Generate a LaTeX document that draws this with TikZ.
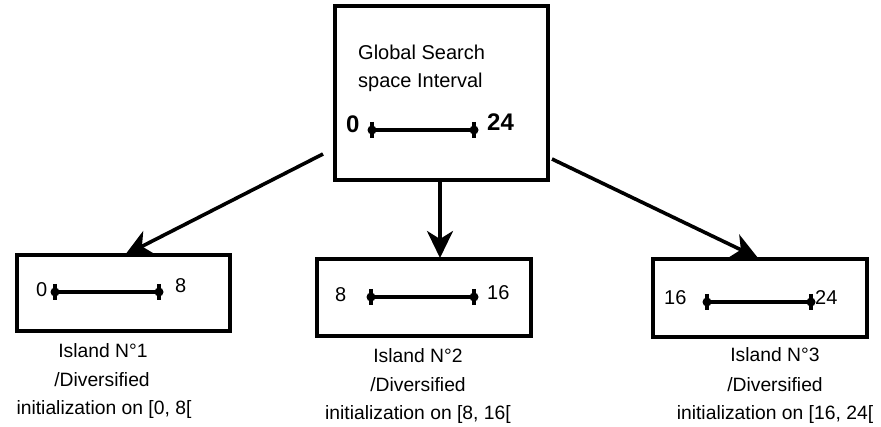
\documentclass[tikz,border=0pt]{standalone}
\usepackage{fontspec}
\setmainfont{Liberation Sans}
\usetikzlibrary{arrows.meta}
\newcommand\ivl[2]{%
  \draw[ivline] (#1) -- (#2);
  \foreach \p in {#1,#2}{%
    \fill (\p) circle (4.5pt);
    \draw[ivline] ([yshift=8pt]\p) -- ([yshift=-8pt]\p);}}
\begin{document}
\begin{tikzpicture}[x=1pt,y=-1pt,
  box/.style={draw, line width=3.6pt, inner sep=0pt},
  txt/.style={inner sep=0pt, font=\fontsize{20}{28}\selectfont},
  lbl/.style={inner sep=0pt, font=\fontsize{19.3}{28}\selectfont},
  bignum/.style={inner sep=0pt, font=\fontsize{24}{28}\selectfont\bfseries},
  ivline/.style={line width=3.2pt},
  arr/.style={line width=3.6pt, -{Stealth[length=27pt,width=26pt,inset=8pt]}}]
\useasboundingbox (0,0) rectangle (881,427);

% boxes
\node[box, minimum width=213pt, minimum height=174pt] (top) at (441.5,93) {};
\node[box, minimum width=213pt, minimum height=76pt] (i1) at (123.5,293) {};
\node[box, minimum width=214pt, minimum height=77pt] (i2) at (424,297.5) {};
\node[box, minimum width=214pt, minimum height=78pt] (i3) at (760,298) {};

% top box content
\node[txt, anchor=base west] (t1) at (358,60) {Global Search};
\node[txt, anchor=base west] (t2) at (358,88) {space Interval};
\node[bignum, anchor=base west] (n0) at (346,133) {0};
\node[bignum, anchor=base west] (n24) at (487,131) {24};
\coordinate (ta) at (372,130);
\coordinate (tb) at (474,130);
\ivl{ta}{tb}

% island 1
\node[txt, anchor=base west] (i1l) at (36,297) {0};
\node[txt, anchor=base west] (i1r) at (175,293) {8};
\coordinate (i1a) at (55,292);
\coordinate (i1b) at (159,292);
\ivl{i1a}{i1b}

% island 2
\node[txt, anchor=base west] (i2l) at (335,302) {8};
\node[txt, anchor=base west] (i2r) at (487,300) {16};
\coordinate (i2a) at (371,297);
\coordinate (i2b) at (474,297);
\ivl{i2a}{i2b}

% island 3
\node[txt, anchor=base west] (i3l) at (664,305) {16};
\node[txt, anchor=base west] (i3r) at (815,305) {24};
\coordinate (i3a) at (707,302);
\coordinate (i3b) at (811,302);
\ivl{i3a}{i3b}

% labels
\node[lbl, anchor=base] (l1a) at (103,358) {Island N°1};
\node[lbl, anchor=base] (l1b) at (102,387) {/Diversified};
\node[lbl, anchor=base] (l1c) at (104,415) {initialization on [0, 8[};
\node[lbl, anchor=base] (l2a) at (418,363) {Island N°2};
\node[lbl, anchor=base] (l2b) at (418,392) {/Diversified};
\node[lbl, anchor=base] (l2c) at (418,420) {initialization on [8, 16[};
\node[lbl, anchor=base] (l3a) at (775,362) {Island N°3};
\node[lbl, anchor=base] (l3b) at (775,392) {/Diversified};
\node[lbl, anchor=base] (l3c) at (775,420) {initialization on [16, 24[};

% arrows
\coordinate (a1s) at (323,154);
\coordinate (a1e) at (125,255);
\coordinate (a2s) at (440,181);
\coordinate (a2e) at (440,258);
\coordinate (a3s) at (552,159);
\coordinate (a3e) at (758,258);
\draw[arr] (a1s) -- (a1e);
\draw[arr] (a2s) -- (a2e);
\draw[arr] (a3s) -- (a3e);
\end{tikzpicture}
\end{document}
